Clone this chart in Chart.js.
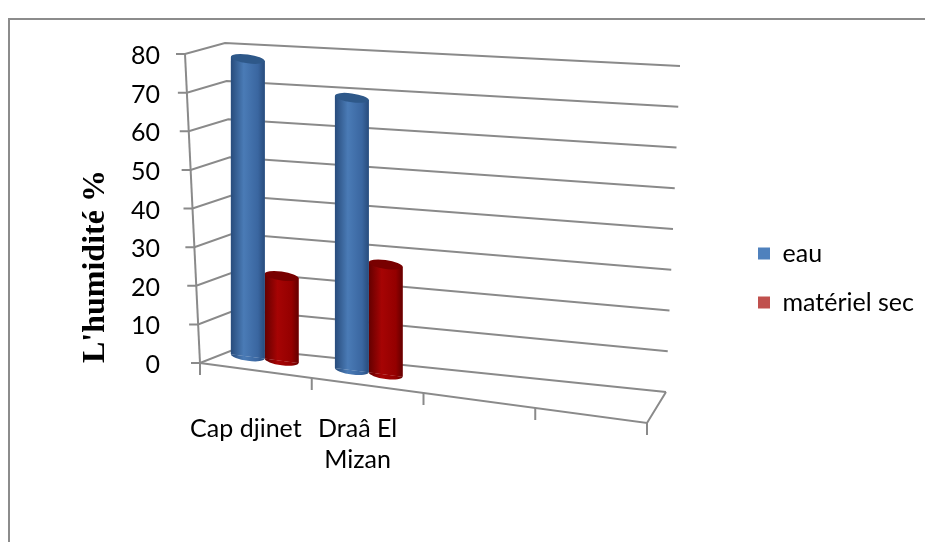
<!DOCTYPE html>
<html lang="fr">
<head>
    <meta charset="UTF-8">
    <title>L'humidité %</title>
    <script src="https://cdn.jsdelivr.net/npm/chart.js"></script>
    <style>
        html, body { margin: 0; padding: 0; background: #fff; overflow: hidden; }
        .frame { position: absolute; left: 8px; top: 18px; width: 1000px; height: 700px; border: 2px solid #8c8c8c; box-sizing: border-box; }
        .chart-box { position: absolute; left: 0; top: 0; width: 925px; height: 542px; }
    </style>
</head>
<body>
    <div class="frame"></div>
    <div class="chart-box"><canvas id="myChart"></canvas></div>

    <script>
        // donnees
        const categories = ['Cap djinet', ['Draâ El', 'Mizan'], '', ''];
        const seriesNames = ['eau', 'matériel sec'];
        const eau = [77.8, 71.2, null, null];
        const materielSec = [22.2, 28.8, null, null];
        const yTicks = [0, 10, 20, 30, 40, 50, 60, 70, 80];

        const legendColors = ['#4F81BD', '#C0504D'];
        const barColors = ['#3A66A0', '#940000'];
        const shades = [
            { edge: '#284C7C', light: '#4A7BB6', cap: '#2E5889' },
            { edge: '#640000', light: '#A60404', cap: '#780000' }
        ];
        const labelFont = { family: 'Lato', size: 25, lineHeight: 1.25 };
        const gridColor = '#8a8a8a';

        // vue "3D" : plan des barres par rapport au plan avant
        const VIEW = { a: 0.931, b: 0.1229, d: 0.99, e: 26.5, f: -32.2 };
        const CAP_RY = 4.5;

        const frame3d = {
            id: 'frame3d',
            beforeLayout(chart) {
                const lg = chart.legend;
                if (lg && !lg._patched) {
                    const fit = lg.fit.bind(lg);
                    lg.fit = function () { fit(); this.width = 278; };
                    lg._patched = true;
                }
            },
            afterLayout(chart) {
                const lg = chart.legend;
                lg.left = 734;
                lg.top -= 20;
                lg.bottom -= 20;
            },
            beforeDatasetsDraw(chart) {
                const { ctx, chartArea: { left, right }, scales: { y } } = chart;
                const vMax = yTicks[yTicks.length - 1];
                const y0 = y.getPixelForValue(0);
                ctx.save();
                ctx.strokeStyle = gridColor;
                ctx.lineWidth = 2;
                yTicks.forEach(v => {
                    const f = v / vMax;
                    const py = y.getPixelForValue(v);
                    const fx = left - 15 * f;
                    ctx.beginPath();
                    ctx.moveTo(fx - 9, py);
                    ctx.lineTo(fx, py);
                    ctx.lineTo(left + 38 - 13 * f, py - 15 + 4 * f);
                    ctx.lineTo(right + 19 + 14 * f, py + 29 - 17 * f);
                    ctx.stroke();
                });
                // axe vertical avant
                ctx.beginPath();
                ctx.moveTo(left, y0);
                ctx.lineTo(left - 15, y.getPixelForValue(vMax));
                ctx.stroke();
                // sol
                const drop = 60 / (right - left);
                ctx.beginPath();
                ctx.moveTo(left, y0);
                ctx.lineTo(right, y0 + 60);
                ctx.lineTo(right + 19, y0 + 29);
                ctx.stroke();
                const slot = (right - left) / categories.length;
                for (let i = 0; i <= categories.length; i++) {
                    const bx = left + i * slot;
                    const by = y0 + (bx - left) * drop;
                    ctx.beginPath();
                    ctx.moveTo(bx, by);
                    ctx.lineTo(bx, by + 12);
                    ctx.stroke();
                }
                ctx.restore();

                ctx.save();
                ctx.transform(VIEW.a, VIEW.b, 0, VIEW.d, VIEW.e, VIEW.f);
            },
            afterDatasetDraw(chart, args) {
                const ctx = chart.ctx;
                const shade = shades[args.index];
                const values = chart.data.datasets[args.index].data;
                args.meta.data.forEach((bar, i) => {
                    if (values[i] == null) return;
                    const { x, y, base, width } = bar.getProps(['x', 'y', 'base', 'width'], true);
                    const l = x - width / 2, r = x + width / 2;
                    const g = ctx.createLinearGradient(l, 0, r, 0);
                    g.addColorStop(0, shade.edge);
                    g.addColorStop(0.38, shade.light);
                    g.addColorStop(0.8, barColors[args.index]);
                    g.addColorStop(1, shade.edge);
                    ctx.fillStyle = g;
                    ctx.fillRect(l, y, width, base - y);
                    ctx.beginPath();
                    ctx.ellipse(x, base, width / 2, CAP_RY, 0, 0, Math.PI);
                    ctx.fill();
                    ctx.beginPath();
                    ctx.ellipse(x, y, width / 2, CAP_RY, 0, 0, Math.PI * 2);
                    ctx.fillStyle = shade.cap;
                    ctx.fill();
                });
            },
            afterDatasetsDraw(chart) {
                chart.ctx.restore();
            }
        };

        const ctx = document.getElementById('myChart').getContext('2d');
        const myChart = new Chart(ctx, {
            type: 'bar',
            data: {
                labels: categories,
                datasets: [{
                    label: seriesNames[0],
                    data: eau,
                    backgroundColor: barColors[0],
                    borderWidth: 0
                }, {
                    label: seriesNames[1],
                    data: materielSec,
                    backgroundColor: barColors[1],
                    borderWidth: 0
                }]
            },
            options: {
                responsive: true,
                maintainAspectRatio: false,
                animation: false,
                categoryPercentage: 0.65,
                barPercentage: 1.0,
                layout: { padding: { left: 8, top: 54, right: 0, bottom: 0 } },
                plugins: {
                    tooltip: { enabled: false },
                    legend: {
                        position: 'right',
                        align: 'center',
                        labels: {
                            boxWidth: 12,
                            boxHeight: 12,
                            padding: 24,
                            color: '#000',
                            font: labelFont,
                            generateLabels(chart) {
                                return chart.data.datasets.map((ds, i) => ({
                                    text: ds.label,
                                    fillStyle: legendColors[i],
                                    strokeStyle: legendColors[i],
                                    lineWidth: 0,
                                    hidden: false,
                                    datasetIndex: i
                                }));
                            }
                        }
                    }
                },
                scales: {
                    x: {
                        grid: { display: false },
                        border: { display: false },
                        ticks: {
                            color: '#000',
                            font: labelFont,
                            padding: 42,
                            labelOffset: -10,
                            autoSkip: false,
                            maxRotation: 0,
                            minRotation: 0
                        },
                        afterFit(scale) { scale.height = 179; }
                    },
                    y: {
                        min: yTicks[0],
                        max: yTicks[yTicks.length - 1],
                        grid: { display: false },
                        border: { display: false },
                        ticks: {
                            stepSize: yTicks[1] - yTicks[0],
                            color: '#000',
                            font: labelFont,
                            padding: 32,
                            labelOffset: 2
                        },
                        title: {
                            display: true,
                            text: "L'humidité %",
                            color: '#000',
                            align: 'start',
                            font: { family: 'Liberation Serif', size: 32, weight: 'bold' },
                            padding: { top: 69, bottom: 0 }
                        },
                        afterFit(scale) { scale.width = 192; }
                    }
                }
            },
            plugins: [frame3d]
        });
    </script>
</body>
</html>
